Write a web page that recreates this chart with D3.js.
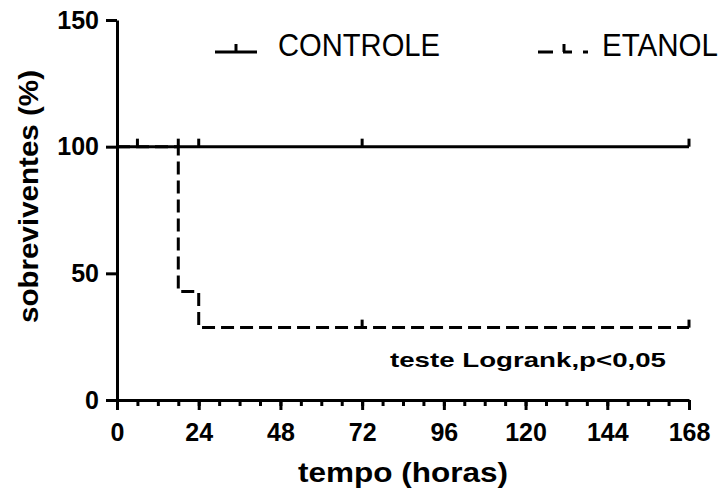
<!DOCTYPE html>
<html>
<head>
<meta charset="utf-8">
<script src="https://cdn.jsdelivr.net/npm/d3@7"></script>
<style>
  body { margin: 0; background: #fff; }
  svg { display: block; font-family: "Liberation Sans", Arial, sans-serif; }
</style>
</head>
<body>
<script>
const width = 726;
const height = 490;

// data
const timeTicks = [0, 24, 48, 72, 96, 120, 144, 168];
const minorTicks = d3.range(0, 169, 6);
const survTicks = [0, 50, 100, 150];

const controleTimes = [0, 168];
const controleSurv = [100, 100];
const controleCensor = [6, 18, 24, 72, 168];

const etanolTimes = [0, 18, 24, 168];
const etanolSurv = [100, 42.86, 28.57, 28.57];
const etanolCensor = [72, 168];

const x = d3.scaleLinear().domain([0, 168]).range([117, 689]);
const y = d3.scaleLinear().domain([0, 150]).range([400, 20]);

const svg = d3
  .select("body")
  .append("svg")
  .attr("width", width)
  .attr("height", height);

const step = d3
  .line()
  .x((d) => x(d[0]))
  .y((d) => y(d[1]))
  .curve(d3.curveStepAfter);

// axes
svg
  .append("g")
  .attr("transform", `translate(0,${y(0)})`)
  .call(d3.axisBottom(x).tickValues(timeTicks).tickSize(10).tickSizeOuter(0).tickPadding(13));

svg
  .append("g")
  .attr("transform", `translate(0,${y(0)})`)
  .call(d3.axisBottom(x).tickValues(minorTicks).tickSize(6).tickSizeOuter(0).tickFormat(""))
  .call((g) => g.select(".domain").remove());

svg
  .append("g")
  .attr("transform", `translate(${x(0)},0)`)
  .call(d3.axisLeft(y).tickValues(survTicks).tickSize(11).tickSizeOuter(0).tickPadding(7));

svg
  .selectAll(".domain, .tick line")
  .attr("stroke", "#000")
  .attr("stroke-width", 3);

svg
  .selectAll(".tick text")
  .attr("font-size", 25)
  .attr("font-weight", "bold")
  .attr("fill", "#000")
  .attr("font-family", "'Liberation Sans', Arial, sans-serif");

// curves
svg
  .append("path")
  .attr("d", step(controleTimes.map((t, i) => [t, controleSurv[i]])))
  .attr("fill", "none")
  .attr("stroke", "#000")
  .attr("stroke-width", 3);

svg
  .append("path")
  .attr("d", step(etanolTimes.map((t, i) => [t, etanolSurv[i]])))
  .attr("fill", "none")
  .attr("stroke", "#000")
  .attr("stroke-width", 3)
  .attr("stroke-dasharray", "13,6");

// censor marks
const survAt = (times, surv, t) => surv[d3.bisectRight(times, t) - 1];

const censors = [
  ...controleCensor.map((t) => [t, survAt(controleTimes, controleSurv, t)]),
  ...etanolCensor.map((t) => [t, survAt(etanolTimes, etanolSurv, t)]),
];

svg
  .append("g")
  .selectAll("line")
  .data(censors)
  .join("line")
  .attr("x1", (d) => x(d[0]))
  .attr("x2", (d) => x(d[0]))
  .attr("y1", (d) => y(d[1]))
  .attr("y2", (d) => y(d[1]) - 8)
  .attr("stroke", "#000")
  .attr("stroke-width", 3);

// legend
const legend = svg.append("g").attr("stroke", "#000").attr("stroke-width", 3);
legend.append("line").attr("x1", 215).attr("x2", 257).attr("y1", 52).attr("y2", 52);
legend.append("line").attr("x1", 236).attr("x2", 236).attr("y1", 52).attr("y2", 44);
legend
  .append("path")
  .attr("d", "M538,52H590")
  .attr("fill", "none")
  .attr("stroke-dasharray", "15,10,9,11,5");
legend.append("line").attr("x1", 564).attr("x2", 564).attr("y1", 52).attr("y2", 44);

svg
  .append("text")
  .attr("x", 278)
  .attr("y", 56)
  .attr("font-size", 32)
  .attr("textLength", 162)
  .attr("lengthAdjust", "spacingAndGlyphs")
  .text("CONTROLE");

svg
  .append("text")
  .attr("x", 602)
  .attr("y", 56)
  .attr("font-size", 32)
  .attr("textLength", 116)
  .attr("lengthAdjust", "spacingAndGlyphs")
  .text("ETANOL");

// annotation
svg
  .append("text")
  .attr("x", 390)
  .attr("y", 367)
  .attr("font-size", 21)
  .attr("font-weight", "bold")
  .attr("textLength", 276)
  .attr("lengthAdjust", "spacingAndGlyphs")
  .text("teste Logrank,p<0,05");

// axis titles
svg
  .append("text")
  .attr("x", 298)
  .attr("y", 482)
  .attr("font-size", 28)
  .attr("font-weight", "bold")
  .attr("textLength", 210)
  .attr("lengthAdjust", "spacingAndGlyphs")
  .text("tempo (horas)");

svg
  .append("text")
  .attr("transform", `translate(38,323) rotate(-90)`)
  .attr("font-size", 28)
  .attr("font-weight", "bold")
  .attr("textLength", 253)
  .attr("lengthAdjust", "spacingAndGlyphs")
  .text("sobreviventes (%)");
</script>
</body>
</html>
